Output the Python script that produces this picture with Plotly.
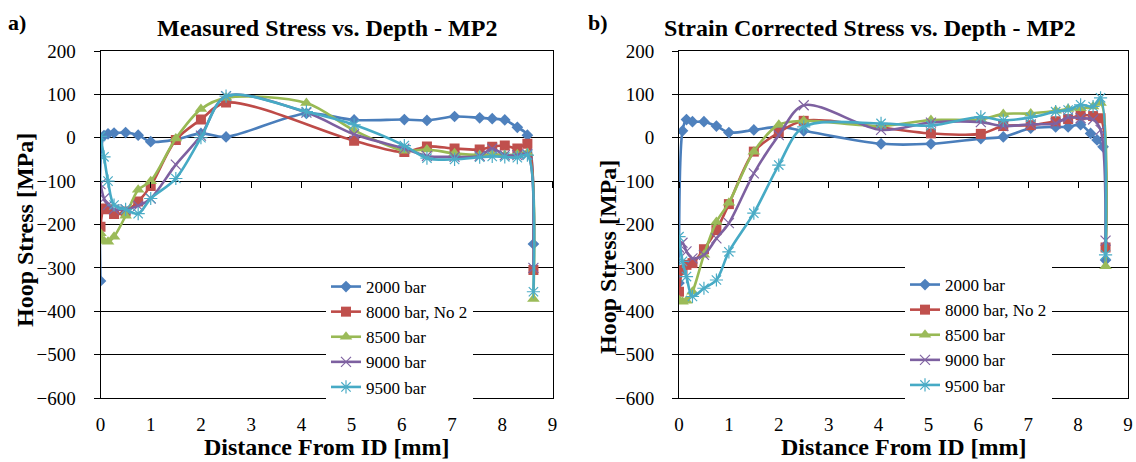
import plotly.graph_objects as go

# ---------------- data ----------------
# Panel a) Measured stress
x_a_2000 = [0, 0.07, 0.15, 0.27, 0.5, 0.75, 1.0, 1.5, 2.0, 2.5, 4.1, 5.05, 6.05, 6.5, 7.05, 7.55, 7.8, 8.05, 8.3, 8.5, 8.62]
y_a_2000 = [-330, 5, 9, 11, 12, 6, -9, -4, 10, 2, 56, 41, 42, 40, 49, 46, 44, 41, 24, 6, -245]

x_a_8000 = [0, 0.07, 0.15, 0.27, 0.5, 0.75, 1.0, 1.5, 2.0, 2.5, 5.05, 6.05, 6.5, 7.05, 7.55, 7.8, 8.05, 8.3, 8.5, 8.62]
y_a_8000 = [-205, -163, -165, -176, -170, -147, -111, -5, 42, 81, -7, -33, -20, -25, -27, -21, -18, -25, -14, -305]

x_a_8500 = [0, 0.07, 0.15, 0.27, 0.5, 0.75, 1.0, 1.5, 2.0, 2.5, 4.1, 5.05, 6.05, 6.5, 7.05, 7.55, 7.8, 8.05, 8.3, 8.5, 8.62]
y_a_8500 = [-220, -238, -240, -228, -180, -120, -100, -2, 66, 92, 80, 17, -30, -27, -36, -40, -38, -40, -38, -35, -372]

x_a_9000 = [0, 0.07, 0.15, 0.27, 0.5, 0.75, 1.0, 1.5, 2.0, 2.5, 4.1, 5.05, 6.05, 6.5, 7.05, 7.55, 7.8, 8.05, 8.3, 8.5, 8.62]
y_a_9000 = [-107, -140, -155, -165, -165, -157, -140, -62, 5, 96, 58, 8, -25, -42, -44, -42, -25, -40, -40, -38, -300]

x_a_9500 = [0, 0.07, 0.15, 0.27, 0.5, 0.75, 1.0, 1.5, 2.0, 2.5, 4.1, 5.05, 6.05, 6.5, 7.05, 7.55, 7.8, 8.05, 8.3, 8.5, 8.62]
y_a_9500 = [3, -44, -100, -155, -165, -175, -140, -94, 0, 96, 60, 30, -18, -47, -50, -45, -43, -44, -46, -40, -355]

# Panel b) Strain corrected stress
x_b_2000 = [0, 0.07, 0.15, 0.27, 0.5, 0.75, 1.0, 1.5, 2.0, 2.5, 4.05, 5.05, 6.05, 6.5, 7.05, 7.55, 7.8, 8.05, 8.25, 8.38, 8.5, 8.55]
y_b_2000 = [-335, 16, 42, 37, 37, 27, 12, 18, 25, 16, -14, -14, -2, 2, 22, 25, 25, 30, 10, -5, -21, -282]

x_b_8000 = [0, 0.07, 0.15, 0.27, 0.5, 0.75, 1.0, 1.5, 2.0, 2.5, 5.05, 6.05, 6.5, 7.05, 7.55, 7.8, 8.05, 8.3, 8.45, 8.55]
y_b_8000 = [-355, -305, -293, -289, -257, -213, -153, -32, 12, 39, 10, 9, 27, 29, 38, 43, 52, 50, 45, -253]

x_b_8500 = [0, 0.07, 0.15, 0.27, 0.5, 0.75, 1.0, 1.5, 2.0, 2.5, 4.05, 5.05, 6.05, 6.5, 7.05, 7.55, 7.8, 8.05, 8.3, 8.45, 8.55]
y_b_8500 = [-374, -378, -376, -355, -270, -194, -150, -32, 30, 39, 27, 41, 42, 55, 56, 62, 66, 68, 72, 80, -296]

x_b_9000 = [0, 0.07, 0.15, 0.27, 0.5, 0.75, 1.0, 1.5, 2.0, 2.5, 4.05, 5.05, 6.05, 6.5, 7.05, 7.55, 7.8, 8.05, 8.3, 8.45, 8.55]
y_b_9000 = [-253, -242, -262, -278, -270, -232, -197, -82, 6, 75, 18, 35, 36, 27, 31, 33, 47, 45, 42, 18, -237]

x_b_9500 = [0, 0.07, 0.15, 0.27, 0.5, 0.75, 1.0, 1.5, 2.0, 2.5, 4.05, 5.05, 6.05, 6.5, 7.05, 7.55, 7.8, 8.05, 8.3, 8.45, 8.55]
y_b_9500 = [-228, -285, -320, -366, -347, -328, -263, -174, -63, 25, 33, 28, 48, 40, 47, 60, 64, 76, 72, 92, -270]

series_names = ["2000 bar", "8000 bar, No 2", "8500 bar", "9000 bar", "9500 bar"]
x_ticks = [0, 1, 2, 3, 4, 5, 6, 7, 8, 9]
y_ticks = [200, 100, 0, -100, -200, -300, -400, -500, -600]

# ---------------- styling ----------------
line_colors = ["#4A7EBB", "#BE4B48", "#98B954", "#7D60A0", "#46AAC5"]
marker_colors = ["#4F81BD", "#C0504D", "#9BBB59", "#8064A2", "#4BACC6"]
symbols = ["diamond", "square", "triangle-up", "x-thin-open", "asterisk-open"]
msizes = [9, 10, 11, 10, 11]
FONT = "Liberation Serif"
W, H = 1136, 462
X_RANGE = [0, 9]
Y_RANGE = [-600, 200]
AXIS_CROSS = -100

# pixel layout
ax_l = (100.5, 552.5)
ax_r = (679.0, 1128.0)
y_top_px, y_bot_px = 51.0, 398.0
ydom = [(H - y_bot_px) / H, (H - y_top_px) / H]
cross_pos = ydom[0] + (AXIS_CROSS - Y_RANGE[0]) / (Y_RANGE[1] - Y_RANGE[0]) * (ydom[1] - ydom[0])

fig = go.Figure()

panels = [
    ("x", "y", [(x_a_2000, y_a_2000), (x_a_8000, y_a_8000), (x_a_8500, y_a_8500),
                (x_a_9000, y_a_9000), (x_a_9500, y_a_9500)], "legend"),
    ("x2", "y2", [(x_b_2000, y_b_2000), (x_b_8000, y_b_8000), (x_b_8500, y_b_8500),
                  (x_b_9000, y_b_9000), (x_b_9500, y_b_9500)], "legend2"),
]

for xa, ya, data, leg in panels:
    for i, (xs, ys) in enumerate(data):
        sym = symbols[i]
        open_sym = sym.endswith("open")
        fig.add_trace(go.Scatter(
            x=xs, y=ys, xaxis=xa, yaxis=ya, mode="lines+markers",
            name=series_names[i], legend=leg,
            line=dict(color=line_colors[i], width=2.6, shape="spline", smoothing=0.9),
            marker=dict(symbol=sym, size=msizes[i], color=marker_colors[i],
                        line=dict(color=marker_colors[i], width=1.2 if open_sym else 0)),
        ))

# tick-only axes at y = -100 (Excel horizontal axis crossing)
fig.add_trace(go.Scatter(x=[], y=[], xaxis="x3", yaxis="y", showlegend=False, hoverinfo="skip"))
fig.add_trace(go.Scatter(x=[], y=[], xaxis="x4", yaxis="y2", showlegend=False, hoverinfo="skip"))

tickfont = dict(family=FONT, size=19, color="black")

def xaxis(dom):
    return dict(domain=[dom[0] / W, dom[1] / W], range=X_RANGE, tickvals=x_ticks,
                showgrid=False, zeroline=False, showline=True, mirror=True,
                linecolor="black", linewidth=1, ticks="", tickfont=tickfont,
                ticklabelstandoff=9)

def yaxis(anchor):
    return dict(domain=ydom, range=Y_RANGE, tickvals=y_ticks, anchor=anchor,
                showgrid=True, gridcolor="black", gridwidth=1, zeroline=False,
                showline=True, mirror=True, linecolor="black", linewidth=1,
                ticks="outside", ticklen=6, tickcolor="black", tickfont=tickfont,
                ticklabelstandoff=14)

def tickaxis(over, dom):
    return dict(overlaying=over, anchor="free", position=cross_pos,
                domain=[dom[0] / W, dom[1] / W], range=X_RANGE, tickvals=x_ticks,
                showticklabels=False, showgrid=False, zeroline=False, showline=False,
                ticks="outside", ticklen=6, tickcolor="black")

legfont = dict(family=FONT, size=17, color="black")

fig.update_layout(
    width=W, height=H, autosize=False,
    margin=dict(l=0, r=0, t=0, b=0),
    paper_bgcolor="white", plot_bgcolor="white",
    template="none",
    font=dict(family=FONT, color="black"),
    xaxis=xaxis(ax_l), xaxis2=dict(xaxis(ax_r), anchor="y2"),
    yaxis=dict(yaxis("x")), yaxis2=dict(yaxis("x2")),
    xaxis3=tickaxis("x", ax_l), xaxis4=tickaxis("x2", ax_r),
    legend=dict(x=326 / W, y=1 - 269 / H, xanchor="left", yanchor="top",
                bgcolor="white", borderwidth=0, font=legfont,
                itemwidth=30, tracegroupgap=0),
    legend2=dict(x=905 / W, y=1 - 267 / H, xanchor="left", yanchor="top",
                 bgcolor="white", borderwidth=0, font=legfont,
                 itemwidth=30, tracegroupgap=0),
    showlegend=True,
)

bold = dict(family=FONT, size=24, color="black")
ann = []
def add(text, xp, yp, font, angle=0):
    ann.append(dict(text="<b>%s</b>" % text, x=xp / W, y=1 - yp / H, xref="paper", yref="paper",
                    xanchor="center", yanchor="middle", showarrow=False, font=font, textangle=angle))

add("a)", 17, 22, dict(family=FONT, size=22, color="black"))
add("b)", 598, 22, dict(family=FONT, size=22, color="black"))
add("Measured Stress vs. Depth - MP2", 327, 28, bold)
add("Strain Corrected Stress vs. Depth - MP2", 870, 28, bold)
add("Distance From ID [mm]", 327, 447, bold)
add("Distance From ID [mm]", 904, 447, bold)
add("Hoop Stress [MPa]", 25, 230, bold, -90)
add("Hoop Stress [MPa]", 608, 257, bold, -90)
fig.update_layout(annotations=ann)

fig.write_html("out.html", config={"displayModeBar": False},
               post_script="document.body.style.margin='0px';document.body.style.overflow='hidden';")
